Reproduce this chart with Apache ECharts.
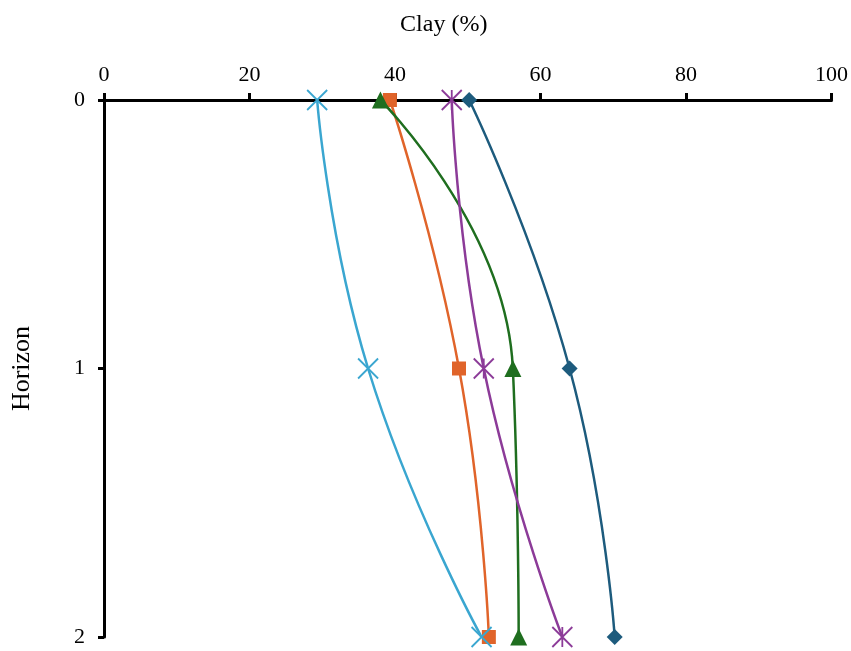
<!DOCTYPE html>
<html><head><meta charset="utf-8">
<script src="https://cdn.jsdelivr.net/npm/echarts@6/dist/echarts.min.js"></script>
<style>html,body{margin:0;padding:0;background:#fff}#c{width:851px;height:651px}</style>
</head><body><div id="c"></div>
<script>
const horizons = [0, 1, 2];
const xTicks = [0, 20, 40, 60, 80, 100];
const seriesNames = ['S1', 'S2', 'S3', 'S4', 'S5'];
const s1 = [50.2, 64.0, 70.2];   // diamond
const s2 = [39.3, 48.8, 52.9];   // square
const s3 = [38.0, 56.2, 57.0];   // triangle
const s4 = [47.8, 52.2, 63.0];   // purple asterisk
const s5 = [29.3, 36.3, 51.9];   // cyan x

const colors = ['#1d5b7d', '#e0642a', '#1f6e1f', '#8c3b98', '#3aa6d0'];
const symbols = ['diamond', 'rect', 'triangle',
  'path://M0,0 L10,10 M10,0 L0,10 M5,0 L5,10',
  'path://M0,0 L10,10 M10,0 L0,10'];
const sizes = [16, 14, 17, 20, 20];
const all = [s1, s2, s3, s4, s5];
const font = 'Liberation Serif';

const chart = echarts.init(document.getElementById('c'));
chart.setOption({
  animation: false,
  grid: {left: 104, right: 19, top: 100, bottom: 14},
  xAxis: {
    type: 'value', position: 'top', min: 0, max: 100, interval: 20,
    name: 'Clay (%)', nameLocation: 'middle', nameGap: 63,
    nameTextStyle: {fontFamily: font, fontSize: 24, color: '#000', padding: [0, 48, 0, 0]},
    axisLine: {show: true, lineStyle: {color: '#000', width: 3}},
    axisTick: {show: true, length: 7, lineStyle: {color: '#000', width: 3}},
    axisLabel: {fontFamily: font, fontSize: 22, color: '#000', margin: 14,
      formatter: v => xTicks.includes(v) ? String(v) : ''},
    splitLine: {show: false}
  },
  yAxis: {
    type: 'value', inverse: true, min: 0, max: 2, interval: 1,
    name: 'Horizon', nameLocation: 'middle', nameGap: 69, nameRotate: 90,
    nameTextStyle: {fontFamily: font, fontSize: 26, color: '#000'},
    axisLine: {show: true, lineStyle: {color: '#000', width: 3}},
    axisTick: {show: true, length: 6, lineStyle: {color: '#000', width: 3}},
    axisLabel: {fontFamily: font, fontSize: 22, color: '#000', margin: 19,
      formatter: v => horizons.includes(v) ? String(v) : ''},
    splitLine: {show: false}
  },
  series: all.map((arr, i) => ({
    name: seriesNames[i], type: 'line', smooth: 0.5,
    data: arr.map((v, j) => [v, horizons[j]]),
    symbol: symbols[i], symbolSize: sizes[i],
    lineStyle: {color: colors[i], width: 2.5},
    itemStyle: i >= 3 ? {color: 'rgba(0,0,0,0)', borderColor: colors[i], borderWidth: 1.8}
                      : {color: colors[i], borderWidth: 0},
    z: 2 + i
  }))
});
</script></body></html>
